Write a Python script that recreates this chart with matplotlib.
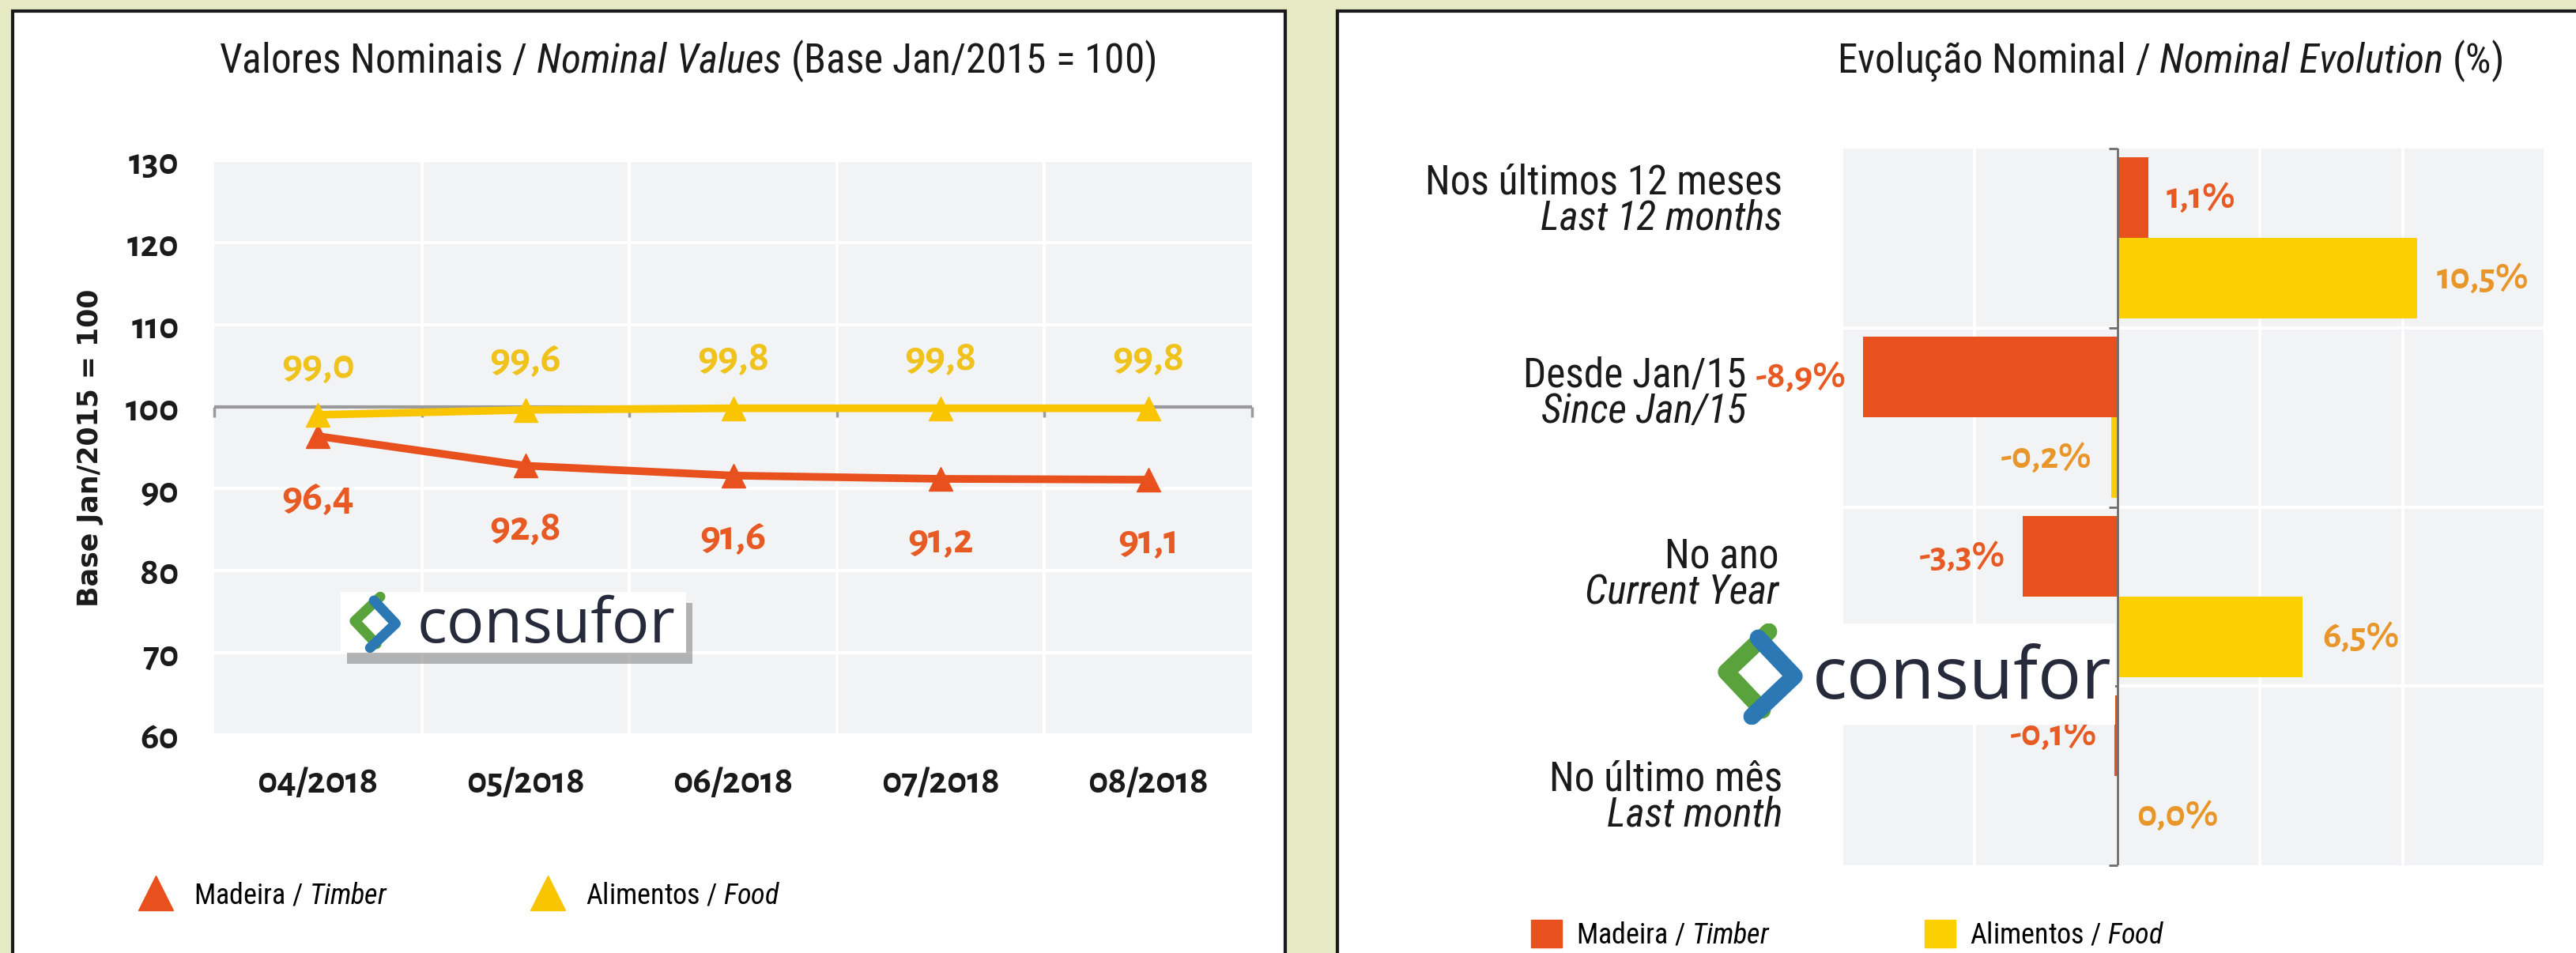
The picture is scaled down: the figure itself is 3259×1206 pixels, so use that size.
import numpy as np
import matplotlib.pyplot as plt
from matplotlib import font_manager as fm
from matplotlib.lines import Line2D
from matplotlib.patches import Patch, Rectangle

W, H = 3259, 1206
DPI = 100

available = {f.name for f in fm.fontManager.ttflist}


def pick(*names):
    for n in names:
        if n in available:
            return n
    return 'DejaVu Sans'


COND = pick('Roboto Condensed', 'PT Sans Narrow', 'Fira Sans Condensed', 'Liberation Sans Narrow', 'Roboto')
NUMF = pick('Alegreya Sans', 'Lato')
LOGOF = pick('Open Sans', 'Noto Sans')

plt.rcParams['font.family'] = [COND, 'DejaVu Sans']
plt.rcParams['mathtext.fontset'] = 'custom'
plt.rcParams['mathtext.rm'] = COND
plt.rcParams['mathtext.it'] = COND + ':italic'

# colours
CREAM = '#e5e9c4'
PLOT_BG = '#f2f3f5'
TIMBER = '#e8501e'
FOOD = '#f8c500'
FOOD_BAR = '#fcd000'
TIMBER_TXT = '#e85a24'
FOOD_TXT_LINE = '#efc21c'
FOOD_TXT_BAR = '#e8962a'
AXIS_GREY = '#9a9a9a'

# ---- data: left chart (index, base Jan/2015 = 100)
months = ['04/2018', '05/2018', '06/2018', '07/2018', '08/2018']
timber_index = [96.4, 92.8, 91.6, 91.2, 91.1]
food_index = [99.0, 99.6, 99.8, 99.8, 99.8]
BASE = 100

# ---- data: right chart (nominal evolution, %)
periods_pt = ['Nos últimos 12 meses', 'Desde Jan/15', 'No ano', 'No último mês']
periods_en = ['Last 12 months', 'Since Jan/15', 'Current Year', 'Last month']
timber_change = [1.1, -8.9, -3.3, -0.1]
food_change = [10.5, -0.2, 6.5, 0.0]

# placement tweaks for the category texts (category units / right edge in px)
LABEL_SHIFT = [-0.21, -0.13, -0.12, 0.12]
LABEL_RIGHT_PX = [2255, 2209, 2250, 2255]


def rect(x0, y0, x1, y1):
    # pixel box (top-left origin) -> figure fraction rect
    return [x0 / W, 1 - y1 / H, (x1 - x0) / W, (y1 - y0) / H]


def comma(v, suffix=''):
    return f"{v:.1f}".replace('.', ',') + suffix


def clean_axes(a):
    a.set_xticks([])
    a.set_yticks([])
    for s in a.spines.values():
        s.set_visible(False)


fig = plt.figure(figsize=(W / DPI, H / DPI), dpi=DPI, facecolor=CREAM)

# white panels with dark border
fig.add_artist(Rectangle((16 / W, -0.1), (1626 - 16) / W, 1 - 14 / H + 0.1,
                         transform=fig.transFigure, fc='white', ec='#1a1a1a', lw=3, zorder=-1))
fig.add_artist(Rectangle((1692 / W, -0.1), 0.6, 1 - 14 / H + 0.1,
                         transform=fig.transFigure, fc='white', ec='#1a1a1a', lw=3, zorder=-1))

# ================= left chart =================
ax1 = fig.add_axes(rect(271, 203, 1584, 930))
ax1.set_facecolor(PLOT_BG)
x = np.arange(len(months))
ax1.set_xlim(-0.5, len(months) - 0.5)
ax1.set_ylim(60, 130)
ax1.set_yticks(np.arange(60, 131, 10))
ax1.set_xticks(x)
ax1.set_xticklabels(months)
ax1.set_xticks(np.arange(0.5, len(months) - 0.5), minor=True)
ax1.grid(True, axis='y', color='white', lw=3)
ax1.grid(True, axis='x', which='minor', color='white', lw=3)
ax1.set_axisbelow(True)
for s in ax1.spines.values():
    s.set_visible(False)
ax1.tick_params(axis='both', which='both', length=0)
ax1.tick_params(axis='y', pad=32, labelsize=35)
ax1.tick_params(axis='x', pad=28, labelsize=35)
for lab in ax1.get_xticklabels() + ax1.get_yticklabels():
    lab.set_fontfamily([NUMF, 'DejaVu Sans'])
    lab.set_fontweight('bold')
    lab.set_color('#1a1a1a')

ax1.set_ylabel('Base Jan/2015 = 100', fontfamily='DejaVu Sans', fontweight='bold',
               fontsize=25, color='#1a1a1a')
ax1.yaxis.set_label_coords(-0.1066, 0.5)

# base line at 100 with small tick marks
ax1.axhline(BASE, color=AXIS_GREY, lw=3, zorder=1.5)
ax1.plot(np.arange(-0.5, len(months)), np.full(len(months) + 1, BASE), ls='none',
         marker=3, ms=9, mew=2.5, color=AXIS_GREY, zorder=1.5, clip_on=False)

ax1.plot(x, timber_index, color=TIMBER, lw=7, marker='^', ms=22, zorder=3)
ax1.plot(x, food_index, color=FOOD, lw=7, marker='^', ms=22, zorder=3)

for xi, v in zip(x, food_index):
    ax1.annotate(comma(v), (xi, v), xytext=(0, 45), textcoords='offset points',
                 ha='center', va='center', color=FOOD_TXT_LINE, fontsize=39,
                 fontfamily=[NUMF, 'DejaVu Sans'], fontweight='bold')
for xi, v in zip(x, timber_index):
    ax1.annotate(comma(v), (xi, v), xytext=(0, -57), textcoords='offset points',
                 ha='center', va='center', color=TIMBER_TXT, fontsize=39,
                 fontfamily=[NUMF, 'DejaVu Sans'], fontweight='bold')

fig.text(870 / W, 1 - 77 / H,
         'Valores Nominais / $\\it{Nominal\\ Values}$ (Base Jan/2015 = 100)',
         ha='center', va='center', fontsize=37, color='#1a1a1a')

fig.legend([Line2D([], [], ls='none', marker='^', ms=32, color=TIMBER),
            Line2D([], [], ls='none', marker='^', ms=32, color=FOOD)],
           ['Madeira / $\\it{Timber}$', 'Alimentos / $\\it{Food}$'],
           loc='center left', bbox_to_anchor=((197 - 36) / W, 1 - 1133 / H),
           ncol=2, frameon=False, fontsize=26, handlelength=2.0, handletextpad=0.33,
           columnspacing=4.6, borderpad=0, borderaxespad=0)

# ================= right chart =================
ax2 = fig.add_axes(rect(2332, 188, 3220, 1095))
ax2.set_facecolor(PLOT_BG)
y = np.arange(len(periods_pt))
ax2.set_xlim(-9.6, 15)
ax2.set_ylim(len(periods_pt) - 0.5, -0.5)
ax2.set_xticks([-5, 0, 5, 10, 15])
ax2.set_xticklabels([])
ax2.set_yticks([])
ax2.set_yticks(np.arange(0.5, len(periods_pt) - 0.5), minor=True)
ax2.grid(True, axis='x', color='white', lw=3)
ax2.grid(True, axis='y', which='minor', color='white', lw=3)
ax2.set_axisbelow(True)
for s in ax2.spines.values():
    s.set_visible(False)
ax2.tick_params(axis='both', which='both', length=0)

# category labels: Portuguese line + italic English line
ytr = ax2.get_yaxis_transform()
for yi, pt, en, dy, xr in zip(y, periods_pt, periods_en, LABEL_SHIFT, LABEL_RIGHT_PX):
    xa = (xr - 2332) / (3220 - 2332)
    ax2.text(xa, yi + dy - 0.1, pt, transform=ytr, ha='right', va='center',
             fontsize=37, color='#1a1a1a', clip_on=False)
    ax2.text(xa, yi + dy + 0.1, en, transform=ytr, ha='right', va='center',
             fontsize=37, fontstyle='italic', color='#1a1a1a', clip_on=False)

bh = 0.45
b_t = ax2.barh(y - bh / 2, timber_change, bh, color=TIMBER, zorder=2)
b_f = ax2.barh(y + bh / 2, food_change, bh, color=FOOD_BAR, zorder=2)
ax2.bar_label(b_t, labels=[comma(v, '%') for v in timber_change], padding=16,
              color=TIMBER_TXT, fontsize=35, fontfamily=[NUMF, 'DejaVu Sans'], fontweight='bold')
ax2.bar_label(b_f, labels=[comma(v, '%') for v in food_change], padding=18,
              color=FOOD_TXT_BAR, fontsize=35, fontfamily=[NUMF, 'DejaVu Sans'], fontweight='bold')

ax2.axvline(0, color='#6e6e6e', lw=2, zorder=3)
ax2.plot(np.zeros(len(periods_pt) + 1), np.arange(-0.5, len(periods_pt)), ls='none',
         marker=0, ms=8, mew=2, color='#6e6e6e', zorder=3, clip_on=False)

fig.text(2745 / W, 1 - 77 / H,
         'Evolução Nominal / $\\it{Nominal\\ Evolution}$ (%)',
         ha='center', va='center', fontsize=37, color='#1a1a1a')

fig.legend([Patch(color=TIMBER), Patch(color=FOOD_BAR)],
           ['Madeira / $\\it{Timber}$', 'Alimentos / $\\it{Food}$'],
           loc='center left', bbox_to_anchor=(1937 / W, 1 - 1183 / H),
           ncol=2, frameon=False, fontsize=26, handlelength=1.08, handleheight=1.08,
           handletextpad=0.5, columnspacing=5.4, borderpad=0, borderaxespad=0)


# ================= consufor watermarks =================
def add_logo(x0, y0, x1, y1, text_x, size, shadow):
    if shadow:
        sh = fig.add_axes(rect(x0 + 8, y0 + 14, x1 + 8, y1 + 14))
        sh.set_facecolor('#7d7d7d')
        sh.patch.set_alpha(0.55)
        clean_axes(sh)
    lg = fig.add_axes(rect(x0, y0, x1, y1))
    lg.set_facecolor('white')
    clean_axes(lg)
    w, h = x1 - x0, y1 - y0
    lg.set_xlim(0, w)
    lg.set_ylim(h, 0)
    r = h * 0.42
    cx, cy = (text_x - x0) * 0.45, h * 0.5
    lw = h * 0.12
    lg.plot([cx + 0.2 * r, cx - 0.8 * r, cx + 0.05 * r], [cy - 1.0 * r, cy - 0.05 * r, cy + 0.85 * r],
            color='#5aa33c', lw=lw, solid_capstyle='round', solid_joinstyle='round')
    lg.plot([cx - 0.05 * r, cx + 0.8 * r, cx - 0.2 * r], [cy - 0.85 * r, cy + 0.05 * r, cy + 1.0 * r],
            color='#2b78b5', lw=lw, solid_capstyle='round', solid_joinstyle='round')
    lg.text(text_x - x0, h * 0.56, 'consufor', fontsize=size, fontfamily=[LOGOF, 'DejaVu Sans'],
            color='#262a3a', ha='left', va='center')


add_logo(431, 749, 868, 826, 528, 57, True)
add_logo(2173, 789, 2676, 917, 2293, 66, False)

fig.savefig('out.png', dpi=DPI, facecolor=CREAM)
